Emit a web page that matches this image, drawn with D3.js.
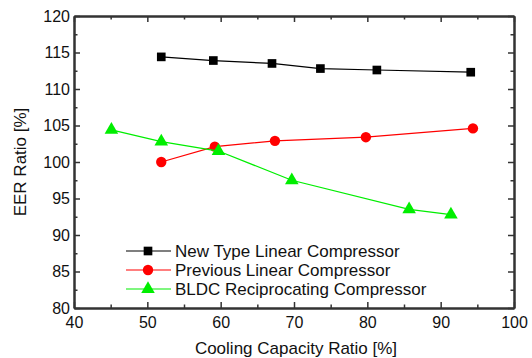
<!DOCTYPE html>
<html>
<head>
<meta charset="utf-8">
<script src="https://cdn.jsdelivr.net/npm/d3@7"></script>
<style>
  body { margin: 0; background: #fff; }
  svg { display: block; font-family: Arial, "Liberation Sans", sans-serif; }
</style>
</head>
<body>
<script>
const newTypeX = [51.9, 59.0, 67.0, 73.6, 81.3, 94.1];
const newTypeY = [114.4, 113.9, 113.5, 112.8, 112.6, 112.3];
const prevX = [51.9, 59.2, 67.4, 79.8, 94.4];
const prevY = [100.0, 102.1, 102.9, 103.4, 104.6];
const bldcX = [45.1, 51.9, 59.7, 69.7, 85.7, 91.4];
const bldcY = [104.4, 102.8, 101.5, 97.5, 93.5, 92.8];

const seriesNames = ['New Type Linear Compressor', 'Previous Linear Compressor', 'BLDC Reciprocating Compressor'];
const seriesColors = ['#000000', '#ff0000', '#00ee00'];
const seriesSymbols = [d3.symbolSquare, d3.symbolCircle, d3.symbolTriangle];
const seriesSizes = [75, 85, 80];

const xTicks = [40, 50, 60, 70, 80, 90, 100];
const yTicks = [80, 85, 90, 95, 100, 105, 110, 115, 120];

const W = 532, H = 358;
const margin = {left: 74, right: 18, top: 16, bottom: 50};

const svg = d3.select('body').append('svg').attr('width', W).attr('height', H);

const x = d3.scaleLinear().domain([40, 100]).range([margin.left, W - margin.right]);
const y = d3.scaleLinear().domain([80, 120]).range([H - margin.bottom, margin.top]);

const axisColor = '#333';

// axes with inward ticks
const xMinor = d3.range(45, 100, 10);
const yMinor = d3.range(82.5, 120, 5);

function styleAxis(g) {
    g.select('.domain').attr('stroke', axisColor).attr('stroke-width', 2);
    g.selectAll('.tick line').attr('stroke', axisColor).attr('stroke-width', 1.5);
    g.selectAll('.tick text').attr('fill', '#111').style('font-size', '16px');
}

svg.append('g').attr('transform', `translate(0,${y(80)})`)
    .call(d3.axisBottom(x).tickValues(xTicks).tickSize(-6).tickPadding(9).tickSizeOuter(0))
    .call(styleAxis);
svg.append('g').attr('transform', `translate(0,${y(80)})`)
    .call(d3.axisBottom(x).tickValues(xMinor).tickSize(-3.5).tickFormat('').tickSizeOuter(0))
    .call(styleAxis);
svg.append('g').attr('transform', `translate(0,${y(120)})`)
    .call(d3.axisTop(x).tickValues(xTicks).tickSize(-6).tickFormat('').tickSizeOuter(0))
    .call(styleAxis);
svg.append('g').attr('transform', `translate(0,${y(120)})`)
    .call(d3.axisTop(x).tickValues(xMinor).tickSize(-3.5).tickFormat('').tickSizeOuter(0))
    .call(styleAxis);

svg.append('g').attr('transform', `translate(${x(40)},0)`)
    .call(d3.axisLeft(y).tickValues(yTicks).tickSize(-6).tickPadding(4).tickSizeOuter(0))
    .call(styleAxis);
svg.append('g').attr('transform', `translate(${x(40)},0)`)
    .call(d3.axisLeft(y).tickValues(yMinor).tickSize(-3.5).tickFormat('').tickSizeOuter(0))
    .call(styleAxis);
svg.append('g').attr('transform', `translate(${x(100)},0)`)
    .call(d3.axisRight(y).tickValues(yTicks).tickSize(-6).tickFormat('').tickSizeOuter(0))
    .call(styleAxis);
svg.append('g').attr('transform', `translate(${x(100)},0)`)
    .call(d3.axisRight(y).tickValues(yMinor).tickSize(-3.5).tickFormat('').tickSizeOuter(0))
    .call(styleAxis);

// axis titles
svg.append('text')
    .attr('x', (x(40) + x(100)) / 2 + 2)
    .attr('y', 354)
    .attr('text-anchor', 'middle')
    .style('font-size', '17px')
    .attr('fill', '#111')
    .text('Cooling Capacity Ratio [%]');

svg.append('text')
    .attr('transform', `translate(26,${(y(80) + y(120)) / 2}) rotate(-90)`)
    .attr('text-anchor', 'middle')
    .style('font-size', '17px')
    .attr('fill', '#111')
    .text('EER Ratio [%]');

// series
const series = [
    {xs: newTypeX, ys: newTypeY},
    {xs: prevX, ys: prevY},
    {xs: bldcX, ys: bldcY}
].map((s, i) => ({
    name: seriesNames[i],
    color: seriesColors[i],
    symbol: seriesSymbols[i],
    size: seriesSizes[i],
    points: s.xs.map((v, j) => [v, s.ys[j]])
}));

const line = d3.line().x(d => x(d[0])).y(d => y(d[1]));

for (const s of series) {
    svg.append('path')
        .datum(s.points)
        .attr('fill', 'none')
        .attr('stroke', s.color)
        .attr('stroke-width', 1.2)
        .attr('d', line);
    svg.append('g')
        .selectAll('path')
        .data(s.points)
        .join('path')
        .attr('transform', d => `translate(${x(d[0])},${y(d[1])})`)
        .attr('d', d3.symbol().type(s.symbol).size(s.size))
        .attr('fill', s.color);
}

// legend
const legend = svg.append('g');
series.forEach((s, i) => {
    const ly = 251 + i * 19;
    legend.append('line')
        .attr('x1', 126).attr('x2', 171)
        .attr('y1', ly).attr('y2', ly)
        .attr('stroke', s.color).attr('stroke-width', 1.2);
    legend.append('path')
        .attr('transform', `translate(148,${ly})`)
        .attr('d', d3.symbol().type(s.symbol).size(s.size))
        .attr('fill', s.color);
    legend.append('text')
        .attr('x', 175).attr('y', ly + 6)
        .style('font-size', '17px')
        .attr('fill', '#111')
        .text(s.name);
});
</script>
</body>
</html>
